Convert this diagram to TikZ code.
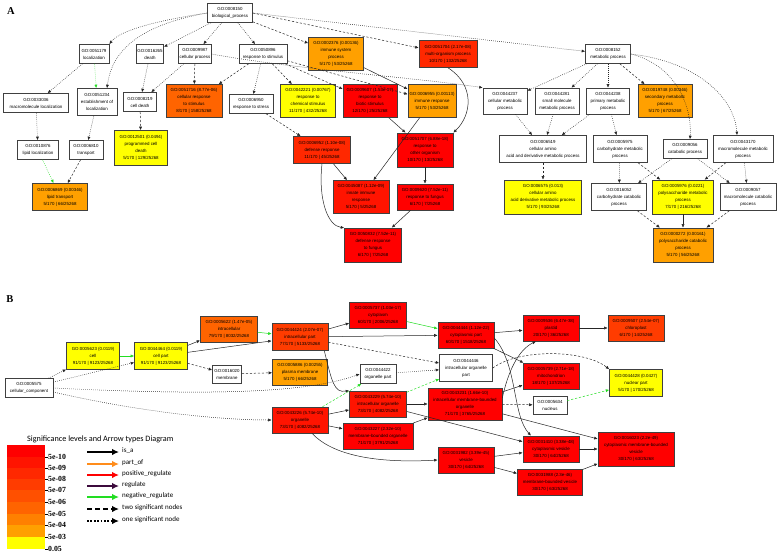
\documentclass[tikz,border=0pt]{standalone}
\usepackage{fontspec}
\setmainfont{Liberation Sans}
\newfontfamily\legfont{Carlito}
\newfontfamily\tickfont{Liberation Serif}
\usetikzlibrary{arrows.meta}
\definecolor{c0}{HTML}{FF0000}
\definecolor{c1}{HTML}{FF1400}
\definecolor{c2}{HTML}{FF2800}
\definecolor{c3}{HTML}{FF3C00}
\definecolor{c4}{HTML}{FF5000}
\definecolor{c5}{HTML}{FF6400}
\definecolor{c6}{HTML}{FF8000}
\definecolor{c7}{HTML}{FFA000}
\definecolor{c8}{HTML}{FFFF00}
\definecolor{gline}{HTML}{22DD22}
\definecolor{porange}{HTML}{FF8C1A}
\definecolor{purp}{HTML}{3C0A3C}
\begin{document}
\begin{tikzpicture}[x=1pt,y=-1pt,
  gobox/.style={draw=black!75, line width=0.6pt, align=center, inner sep=1pt,
    font=\fontsize{4.4}{7}\selectfont, text=black},
  wb/.style={gobox, fill=white},
  sz/.style 2 args={minimum width=#1pt, minimum height=#2pt},
  ed/.style={draw=black!85, line width=0.5pt, -{Latex[length=3.5pt,width=3pt]}},
  dt/.style={ed, dash pattern=on 0.7pt off 1.3pt},
  ds/.style={ed, dash pattern=on 2.2pt off 1.8pt},
  gr/.style={ed, draw=gline},
  grdt/.style={dt, draw=gline},
  grds/.style={ds, draw=gline},
  plab/.style={font=\tickfont\bfseries\fontsize{10.5}{11}\selectfont},
  legarr/.style={line width=2.2pt, -{Latex[length=7pt,width=6.5pt]}},
  leglab/.style={anchor=west, font=\legfont\fontsize{7}{8}\selectfont, inner sep=0pt},
  ticklab/.style={anchor=west, font=\tickfont\bfseries\fontsize{7.8}{8}\selectfont, inner sep=0pt}
]
\useasboundingbox (0,0) rectangle (784,555);
\fill[white] (0,0) rectangle (784,555);

% ================= Panel A =================
\node[plab] (lA) at (11,11) {A};

\node[wb, sz={45}{19}] (n8150) at (230,13) {GO:0008150\\biological\_process};
\node[wb, sz={30}{19}] (n51179) at (94,54) {GO:0051179\\localization};
\node[wb, sz={26}{19}] (n16265) at (150,54) {GO:0016265\\death};
\node[wb, sz={30}{19}] (n9987) at (195,54) {GO:0009987\\cellular process};
\node[wb, sz={48}{19}] (n50896) at (263,54) {GO:0050896\\response to stimulus};
\node[gobox, fill=c7, sz={55}{33}] (n2376) at (336,54) {GO:0002376 (0.00136)\\immune system\\process\\5/170 | 53/25268};
\node[gobox, fill=c2, sz={58}{27}] (n51704) at (448,54) {GO:0051704 (2.17e-08)\\multi-organism process\\10/170 | 132/25268};
\node[wb, sz={45}{19}] (n8152) at (608,54) {GO:0008152\\metabolic process};

\node[wb, sz={65}{19}] (n33036) at (36,103) {GO:0033036\\macromolecule localization};
\node[wb, sz={40}{27}] (n51234) at (97,102) {GO:0051234\\establishment of\\localization};
\node[wb, sz={33}{19}] (n8219) at (140,102) {GO:0008219\\cell death};
\node[gobox, fill=c5, sz={56}{33}] (n51716) at (194,101) {GO:0051716 (8.77e-06)\\cellular response\\to stimulus\\8/170 | 158/25268};
\node[wb, sz={44}{19}] (n6950) at (251,104) {GO:0006950\\response to stress};
\node[gobox, fill=c8, sz={55}{33}] (n42221) at (308,101) {GO:0042221 (0.00767)\\response to\\chemical stimulus\\11/170 | 432/25268};
\node[gobox, fill=c0, sz={54}{33}] (n9607) at (370,101) {GO:0009607 (1.53e-17)\\response to\\biotic stimulus\\12/170 | 25/25268};
\node[gobox, fill=c7, sz={48}{33}] (n6955) at (432,101) {GO:0006955 (0.00113)\\immune response\\5/170 | 53/25268};
\node[wb, sz={44}{26}] (n44237) at (505,101) {GO:0044237\\cellular metabolic\\process};
\node[wb, sz={44}{26}] (n44281) at (557,101) {GO:0044281\\small molecule\\metabolic process};
\node[wb, sz={43}{26}] (n44238) at (608,101) {GO:0044238\\primary metabolic\\process};
\node[gobox, fill=c7, sz={54}{33}] (n19748) at (665,101) {GO:0019748 (0.00346)\\secondary metabolic\\process\\5/170 | 67/25268};

\node[wb, sz={41}{19}] (n10876) at (38,150) {GO:0010876\\lipid localization};
\node[wb, sz={34}{19}] (n6810) at (86,150) {GO:0006810\\transport};
\node[gobox, fill=c8, sz={53}{35}] (n12501) at (141,148) {GO:0012501 (0.0494)\\programmed cell\\death\\5/170 | 129/25268};
\node[gobox, fill=c2, sz={57}{27}] (n6952) at (322,150) {GO:0006952 (1.10e-08)\\defense response\\11/170 | 45/25268};
\node[gobox, fill=c0, sz={56}{34}] (n51707) at (425,150) {GO:0051707 (6.88e-18)\\response to\\other organism\\10/170 | 13/25268};
\node[wb, sz={87}{27}] (n6519) at (543,149) {GO:0006519\\cellular amino\\acid and derivative metabolic process};
\node[wb, sz={54}{27}] (n5975) at (620,149) {GO:0005975\\carbohydrate metabolic\\process};
\node[wb, sz={44}{19}] (n9056) at (685,149) {GO:0009056\\catabolic process};
\node[wb, sz={60}{27}] (n43170) at (743,149) {GO:0043170\\macromolecule metabolic\\process};

\node[gobox, fill=c7, sz={55}{27}] (n6869) at (60,197) {GO:0006869 (0.00346)\\lipid transport\\5/170 | 66/25268};
\node[gobox, fill=c1, sz={56}{33}] (n45087) at (361,197) {GO:0045087 (1.12e-09)\\innate immune\\response\\5/170 | 5/25268};
\node[gobox, fill=c0, sz={56}{26}] (n9620) at (425,197) {GO:0009620 (7.52e-11)\\response to fungus\\6/170 | 7/25268};
\node[gobox, fill=c8, sz={77}{34}] (n6575) at (543,197) {GO:0006575 (0.013)\\cellular amino\\acid derivative metabolic process\\5/170 | 93/25268};
\node[wb, sz={55}{27}] (n16052) at (619,197) {GO:0016052\\carbohydrate catabolic\\process};
\node[gobox, fill=c8, sz={61}{34}] (n5976) at (683,197) {GO:0005976 (0.0221)\\polysaccharide metabolic\\process\\7/170 | 216/25268};
\node[wb, sz={56}{27}] (n9057) at (748,197) {GO:0009057\\macromolecule catabolic\\process};

\node[gobox, fill=c0, sz={57}{34}] (n50832) at (373,245) {GO:0050832 (7.52e-11)\\defense response\\to fungus\\6/170 | 7/25268};
\node[gobox, fill=c7, sz={60}{34}] (n272) at (683,245) {GO:0000272 (0.00161)\\polysaccharide catabolic\\process\\5/170 | 56/25268};

% edges A
\draw[dt] (n8150.west) .. controls (160,20) and (120,30) .. (n51179.north east);
\draw[dt] (n8150.west) .. controls (140,25) and (112,50) .. ([xshift=10pt]n51234.north);
\draw[dt] (n8150) -- (n16265);
\draw[dt] (n8150) -- (n9987);
\draw[dt] (n8150) -- (n50896);
\draw[ds] (n8150) -- (n2376);
\draw[ds] (n8150.east) -- (n51704);
\draw[dt] (n8150.east) -- (n8152);
\draw[grdt] (n51179) -- (n51234);
\draw[dt] (n51179) -- (n33036);
\draw[dt] (n33036) -- (n10876);
\draw[dt] (n51234) -- (n6810);
\draw[dt] (n16265) -- (n8219);
\draw[dt] (n9987) -- (n8219);
\draw[ds] (n9987) -- (n51716);
\draw[dt] (n9987.east) .. controls (300,70) and (420,78) .. (n44237.north west);
\draw[dt] (n50896) -- (n6950);
\draw[ds] (n50896) -- (n51716);
\draw[ds] (n50896) -- (n42221);
\draw[ds] (n50896) -- (n9607);
\draw[ds] (n50896) -- (n6955);
\draw[ds] (n8219) -- (n12501);
\draw[ds] (n6950) -- (n6952);
\draw[grdt] (n10876) -- (n6869);
\draw[ds] (n6810) -- (n6869);
\draw[ed] (n2376) -- (n6955);
\draw[ed] (n51704.south) .. controls (475,85) and (472,115) .. (n51707.north east);
\draw[ed] (n9607) -- (n51707);
\draw[ed] (n6955) -- (n45087);
\draw[ed] (n6952) -- (n45087);
\draw[ed] (n6952.south) .. controls (318,200) and (328,226) .. (n50832.north west);
\draw[ed] (n51707) -- (n9620);
\draw[ed] (n9620) -- (n50832);
\draw[dt] (n8152) -- (n44237);
\draw[dt] (n8152) -- (n44281);
\draw[dt] (n8152) -- (n44238);
\draw[ds] (n8152) -- (n19748);
\draw[dt] (n8152.east) .. controls (675,65) and (692,105) .. ([xshift=5pt]n9056.north);
\draw[dt] (n8152.east) .. controls (700,62) and (735,100) .. ([xshift=-6pt]n43170.north);
\draw[dt] (n44237) -- (n6519);
\draw[dt] (n44281) -- (n6519);
\draw[dt] (n44238) -- (n6519);
\draw[dt] (n44238) -- (n5975);
\draw[ds] (n6519) -- (n6575);
\draw[dt] (n5975) -- (n16052);
\draw[ds] (n5975) -- (n5976);
\draw[dt] (n9056) -- (n16052);
\draw[dt] (n9056) -- (n9057);
\draw[ds] (n43170) -- (n5976);
\draw[dt] (n43170) -- (n9057);
\draw[ds] (n16052) -- (n272);
\draw[ed] (n5976) -- (n272);
\draw[ds] (n9057) -- (n272);

% ================= Panel B =================
\node[plab] (lB) at (10,299) {B};

\node[wb, sz={48}{19}] (b5575) at (29,388) {GO:0005575\\cellular\_component};
\node[gobox, fill=c8, sz={53}{27}] (b5623) at (93,356) {GO:0005623 (0.0119)\\cell\\91/170 | 9123/25268};
\node[gobox, fill=c8, sz={53}{27}] (b44464) at (161,356) {GO:0044464 (0.0119)\\cell part\\91/170 | 9123/25268};
\node[gobox, fill=c5, sz={57}{26}] (b5622) at (229,329) {GO:0005622 (1.47e-05)\\intracellular\\79/170 | 8032/25268};
\node[wb, sz={29}{18}] (b16020) at (227,374) {GO:0016020\\membrane};
\node[gobox, fill=c3, sz={56}{27}] (b44424) at (300,337) {GO:0044424 (2.07e-07)\\intracellular part\\77/170 | 5133/25268};
\node[gobox, fill=c7, sz={55}{26}] (b5886) at (300,372) {GO:0005886 (0.00255)\\plasma membrane\\5/170 | 66/25268};
\node[gobox, fill=c0, sz={57}{26}] (b5737) at (378,315) {GO:0005737 (1.03e-17)\\cytoplasm\\60/170 | 2006/25268};
\node[wb, sz={36}{19}] (b44422) at (378,374) {GO:0044422\\organelle part};
\node[gobox, fill=c0, sz={56}{26}] (b44444) at (466,335) {GO:0044444 (1.12e-22)\\cytoplasmic part\\60/170 | 1518/25268};
\node[wb, sz={53}{27}] (b44446) at (466,368) {GO:0044446\\intracellular organelle\\part};
\node[gobox, fill=c1, sz={57}{26}] (b43229) at (378,404) {GO:0043229 (5.74e-10)\\intracellular organelle\\73/170 | 4082/25268};
\node[gobox, fill=c1, sz={56}{26}] (b43226) at (300,420) {GO:0043226 (5.74e-10)\\organelle\\73/170 | 4082/25268};
\node[gobox, fill=c0, sz={74}{32}] (b43231) at (465,404) {GO:0043231 (1.66e-10)\\intracellular membrane-bounded\\organelle\\71/170 | 3765/25268};
\node[gobox, fill=c0, sz={70}{26}] (b43227) at (378,436) {GO:0043227 (2.32e-10)\\membrane-bounded organelle\\71/170 | 3791/25268};
\node[gobox, fill=c0, sz={56}{26}] (b31982) at (466,460) {GO:0031982 (3.39e-45)\\vesicle\\30/170 | 64/25268};
\node[gobox, fill=c0, sz={56}{26}] (b9536) at (551,328) {GO:0009536 (6.47e-38)\\plastid\\20/170 | 36/25268};
\node[gobox, fill=c3, sz={56}{26}] (b9507) at (636,328) {GO:0009507 (2.54e-07)\\chloroplast\\6/170 | 14/25268};
\node[gobox, fill=c0, sz={56}{26}] (b5739) at (551,376) {GO:0005739 (2.71e-18)\\mitochondrion\\18/170 | 137/25268};
\node[gobox, fill=c8, sz={53}{27}] (b44428) at (636,383) {GO:0044428 (0.0427)\\nuclear part\\5/170 | 170/25268};
\node[wb, sz={34}{18}] (b5634) at (550,405) {GO:0005634\\nucleus};
\node[gobox, fill=c0, sz={56}{26}] (b31410) at (551,449) {GO:0031410 (3.38e-48)\\cytoplasmic vesicle\\30/170 | 64/25268};
\node[gobox, fill=c0, sz={65}{26}] (b31988) at (550,482) {GO:0031988 (2.3e-46)\\membrane-bounded vesicle\\30/170 | 63/25268};
\node[gobox, fill=c0, sz={76}{34}] (b16023) at (636,449) {GO:0016023 (2.2e-49)\\cytoplasmic membrane-bounded\\vesicle\\30/170 | 63/25268};

% edges B
\draw[dt] (b5575) -- (b5623);
\draw[dt] (b5575) -- (b44464);
\draw[dt] (b5575.east) .. controls (180,394) and (300,396) .. (b44422.west);
\draw[dt] ([yshift=-4pt]b5575.east) .. controls (140,412) and (220,420) .. (b43226.west);
\draw[gr] (b5623) -- (b44464);
\draw[ed] (b44464) -- (b5622);
\draw[ed] (b44464) -- (b44424);
\draw[ds] (b44464) -- (b16020);
\draw[gr] (b5622) -- (b44424);
\draw[ds] (b16020) -- (b5886);
\draw[ed] (b44424) -- (b5737);
\draw[ed] (b44424) -- (b44444);
\draw[ds] (b44424) -- (b44446);
\draw[ed] ([xshift=-4pt]b44424.south east) .. controls (332,382) and (334,393) .. (b43229.north west);
\draw[gr] (b5737) -- (b44444);
\draw[dt] (b44422) -- (b44446);
\draw[grds] (b43226) -- (b44422);
\draw[ed] (b43226) -- (b43229);
\draw[ed] (b43226) -- (b43227);
\draw[ed] ([xshift=12pt]b43226.south) .. controls (335,458) and (385,463) .. (b31982.west);
\draw[grds] (b43229) -- (b44446);
\draw[ed] (b43229) -- (b43231);
\draw[ed] (b43229) -- (b31410);
\draw[ed] (b43227) -- (b43231);
\draw[ed] (b44444) -- (b9536);
\draw[ed] (b44444) -- (b5739);
\draw[ed] ([yshift=-3pt]b44444.east) .. controls (518,365) and (512,415) .. ([xshift=-20pt]b31410.north);
\draw[ed] ([yshift=6pt]b43231.east) .. controls (508,372) and (518,350) .. ([xshift=-15pt]b9536.south);
\draw[ed] (b43231) -- (b5739);
\draw[ds] (b43231) -- (b5634);
\draw[ed] (b43231) -- (b16023);
\draw[ds] (b44446.east) .. controls (520,348) and (585,350) .. (b44428.north west);
\draw[grds] (b5634) -- (b44428);
\draw[ed] (b31982) -- (b31410);
\draw[ed] (b31982) -- (b31988);
\draw[ed] (b31410) -- (b16023);
\draw[ed] (b31988) -- (b16023);
\draw[ed] (b9536) -- (b9507);

% ================= Legend =================
\node[anchor=west, font=\legfont\fontsize{8.2}{9}\selectfont, inner sep=0pt] (legt) at (27,439) {Significance levels and Arrow types Diagram};
\fill[c0] (7,445) rectangle (45,457);
\fill[c1] (7,457) rectangle (45,468);
\fill[c2] (7,468) rectangle (45,479);
\fill[c3] (7,479) rectangle (45,490);
\fill[c4] (7,490) rectangle (45,502);
\fill[c5] (7,502) rectangle (45,514);
\fill[c6] (7,514) rectangle (45,525);
\fill[c7] (7,525) rectangle (45,537);
\fill[c8] (7,537) rectangle (45,549);
\foreach \yy/\tl in {457/5e-10,468/5e-09,479/5e-08,490/5e-07,502/5e-06,514/5e-05,525/5e-04,537/5e-03,549/0.05}{
  \draw[line width=0.5pt] (45,\yy) -- (47.5,\yy);
  \node[ticklab] at (48,\yy) {\tl};
}
\coordinate (a1s) at (87,452); \coordinate (a1e) at (119,452);
\coordinate (a2s) at (87,464); \coordinate (a2e) at (119,464);
\coordinate (a3s) at (87,475); \coordinate (a3e) at (119,475);
\coordinate (a4s) at (87,486); \coordinate (a4e) at (119,486);
\coordinate (a5s) at (87,497); \coordinate (a5e) at (119,497);
\coordinate (a6s) at (87,509); \coordinate (a6e) at (119,509);
\coordinate (a7s) at (87,521); \coordinate (a7e) at (119,521);
\draw[legarr, black] (a1s) -- (a1e);
\draw[legarr, porange] (a2s) -- (a2e);
\draw[legarr, red] (a3s) -- (a3e);
\draw[legarr, purp] (a4s) -- (a4e);
\draw[legarr, gline] (a5s) -- (a5e);
\draw[legarr, black, dash pattern=on 5pt off 3pt] (a6s) -- (a6e);
\draw[legarr, black, dash pattern=on 1.8pt off 1.6pt] (a7s) -- (a7e);
\node[leglab] at (122,451) {is\_a};
\node[leglab] at (122,463) {part\_of};
\node[leglab] at (122,474) {positive\_regulate};
\node[leglab] at (122,485) {regulate};
\node[leglab] at (122,496) {negative\_regulate};
\node[leglab] at (122,508) {two significant nodes};
\node[leglab] at (122,520) {one significant node};
\end{tikzpicture}
\end{document}
